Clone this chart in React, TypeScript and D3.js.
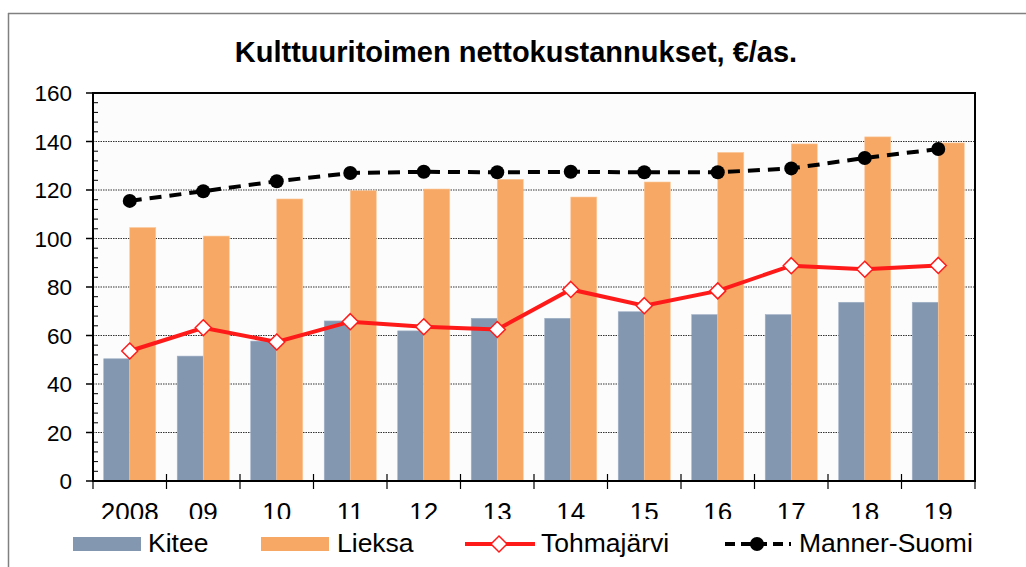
import React from "react";
import * as d3 from "d3";

const years = ["2008", "09", "10", "11", "12", "13", "14", "15", "16", "17", "18", "19"];
const kitee = [50.4, 51.5, 57.7, 66.0, 61.9, 67.1, 67.1, 69.8, 68.6, 68.6, 73.7, 73.7];
const lieksa = [104.5, 101.0, 116.3, 119.7, 120.4, 124.4, 117.1, 123.3, 135.5, 139.0, 141.9, 139.4];
const tohmajarvi = [53.6, 63.2, 57.3, 65.7, 63.6, 62.5, 79.0, 72.3, 78.4, 88.8, 87.3, 88.9];
const mannerSuomi = [115.5, 119.5, 123.6, 127.0, 127.5, 127.3, 127.5, 127.3, 127.3, 128.9, 133.2, 136.9];
const yTicks = [0, 20, 40, 60, 80, 100, 120, 140, 160];
const title = "Kulttuuritoimen nettokustannukset, €/as.";

const KITEE = "#8497B0";
const LIEKSA = "#F7A864";
const RED = "#FF1A1A";
const FONT = "'Liberation Sans', Arial, sans-serif";

export default function App() {
  const W = 1026, H = 567;
  const left = 93, right = 975, top = 93, bottom = 481;
  const x = d3.scaleBand<string>().domain(years).range([left, right]).padding(0);
  const y = d3.scaleLinear().domain([0, 160]).range([bottom, top]);
  const bw = x.bandwidth();
  const barW = bw * 0.354;
  const cx = (i: number) => (x(years[i]) as number) + bw / 2;

  const line = d3.line<number>().x((_, i) => cx(i)).y((v) => y(v));
  const minor = d3.range(0, 161, 4).filter((v) => v % 20 !== 0);
  const diamond = (px: number, py: number, r: number) =>
    `M${px},${py - r}L${px + r},${py}L${px},${py + r}L${px - r},${py}Z`;

  return (
    <svg width={W} height={H} style={{ position: "absolute", left: 0, top: 0 }} fontFamily={FONT}>
      <rect x={0} y={0} width={W} height={H} fill="#fff" />
      {/* outer frame */}
      <line x1={8} y1={13.5} x2={1026} y2={13.5} stroke="#808080" strokeWidth={1.5} />
      <line x1={8.5} y1={13} x2={8.5} y2={H} stroke="#808080" strokeWidth={1.5} />
      <text x={516} y={62} textAnchor="middle" fontSize={29} fontWeight="bold" fill="#000">{title}</text>

      {/* plot background */}
      <rect x={left} y={top} width={right - left} height={bottom - top} fill="#fcfcfc" />
      {/* grid */}
      {yTicks.filter((t) => t > 0 && t < 160).map((t) => (
        <line key={t} x1={left} x2={right} y1={y(t)} y2={y(t)} stroke="#333" strokeWidth={1} strokeDasharray="1.5 1" />
      ))}
      {/* bars */}
      {years.map((yr, i) => (
        <g key={yr}>
          <rect x={cx(i) - barW} y={y(kitee[i])} width={barW} height={bottom - y(kitee[i])} fill={KITEE} stroke="#9fb0c6" strokeWidth={0.6} />
          <rect x={cx(i)} y={y(lieksa[i])} width={barW} height={bottom - y(lieksa[i])} fill={LIEKSA} stroke="#fbc89a" strokeWidth={0.6} />
        </g>
      ))}
      {/* Manner-Suomi */}
      <path d={line(mannerSuomi) || ""} fill="none" stroke="#000" strokeWidth={4} strokeDasharray="12 8" />
      {mannerSuomi.map((v, i) => (
        <circle key={i} cx={cx(i)} cy={y(v)} r={7} fill="#000" />
      ))}
      {/* Tohmajärvi */}
      <path d={line(tohmajarvi) || ""} fill="none" stroke={RED} strokeWidth={4} />
      {tohmajarvi.map((v, i) => (
        <path key={i} d={diamond(cx(i), y(v), 8)} fill="#fff" stroke={RED} strokeWidth={1.5} />
      ))}

      {/* plot border */}
      <rect x={left} y={top} width={right - left} height={bottom - top} fill="none" stroke="#000" strokeWidth={2} />
      {/* y ticks */}
      {yTicks.map((t) => (
        <g key={t}>
          <line x1={left - 7} x2={left} y1={y(t)} y2={y(t)} stroke="#000" strokeWidth={1.5} />
          <text x={72} y={y(t)} dy="0.36em" textAnchor="end" fontSize={22.5} fill="#000">{t}</text>
        </g>
      ))}
      {minor.map((t) => (
        <line key={t} x1={left} x2={left + 5} y1={y(t)} y2={y(t)} stroke="#000" strokeWidth={1} />
      ))}
      {/* x ticks */}
      {d3.range(years.length + 1).map((i) => {
        const px = left + i * bw;
        return <line key={i} x1={px} x2={px} y1={bottom - 7} y2={bottom + 8} stroke="#000" strokeWidth={1.2} />;
      })}
      {years.map((yr, i) => (
        <text key={yr} x={cx(i)} y={520.5} textAnchor="middle" fontSize={26} fill="#000">{yr}</text>
      ))}

      {/* legend box */}
      <rect x={20} y={519} width={990} height={48} fill="#fff" />
      <rect x={73} y={537} width={68} height={14} fill={KITEE} />
      <text x={148} y={552} fontSize={26.5} fill="#000">Kitee</text>
      <rect x={261} y={537} width={68} height={14} fill={LIEKSA} />
      <text x={337} y={552} fontSize={26.5} fill="#000">Lieksa</text>
      <line x1={465} x2={535} y1={544} y2={544} stroke={RED} strokeWidth={4} />
      <path d={diamond(499, 544, 8)} fill="#fff" stroke={RED} strokeWidth={1.5} />
      <text x={541} y={552} fontSize={26.5} fill="#000">Tohmajärvi</text>
      <line x1={723} x2={791} y1={544} y2={544} stroke="#000" strokeWidth={4} strokeDasharray="10 6" strokeDashoffset={-2} />
      <circle cx={757} cy={544} r={7} fill="#000" />
      <text x={799} y={552} fontSize={26.5} fill="#000">Manner-Suomi</text>
    </svg>
  );
}
